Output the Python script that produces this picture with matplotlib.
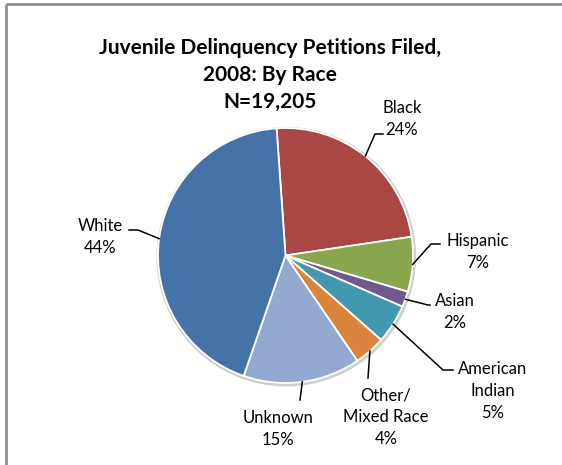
import matplotlib
matplotlib.use("Agg")
import matplotlib.pyplot as plt
import numpy as np

# Juvenile delinquency petitions filed in 2008, share by race (percent)
categories = ["Black", "Hispanic", "Asian", "American\nIndian", "Other/\nMixed Race", "Unknown", "White"]
values = [24, 7, 2, 5, 4, 15, 44]
colors = ["#AA4643", "#89A54E", "#71588F", "#4198AF", "#DB843D", "#93A9CF", "#4572A7"]

title_lines = ["Juvenile Delinquency Petitions Filed,", "2008: By Race", "N=19,205"]

W, H = 562, 465
fig = plt.figure(figsize=(W / 100, H / 100), dpi=100)
ax = fig.add_axes([0, 0, 1, 1])

FONT = "Lato"


def py(y):
    """Convert a top-down pixel row to the axes' y coordinate."""
    return H - y


cx, cy, r = 285.5, py(255.5), 127.5

# soft shadow around the pie
ax.add_patch(plt.Circle((cx + 0.8, cy - 1.2), r + 1.6, color="#cfcfcf", zorder=1))

wedges, _ = ax.pie(values, colors=colors, startangle=94, counterclock=False,
                   center=(cx, cy), radius=r, frame=True,
                   wedgeprops=dict(edgecolor="white", linewidth=1.3, zorder=2))
ax.set_xlim(0, W)
ax.set_ylim(0, H)
ax.set_aspect("equal")
ax.axis("off")

# chart frame (top and left edges)
ax.plot([6, 6], [py(H + 5), py(4)], color="#8f8f8f", lw=2, solid_capstyle="butt")
ax.plot([6, W + 5], [py(4), py(4)], color="#8f8f8f", lw=2, solid_capstyle="butt")

# label placement: (text centre, elbow point, end point), in pixel rows from the top
layout = {
    "Black": ((402, 119), (375, 134), (383, 134)),
    "Hispanic": ((478, 252), (431, 244), (440, 244)),
    "Asian": ((455, 312), (428, 305), (430, 305)),
    "American\nIndian": ((493, 391), (443, 370), (453, 370)),
    "Other/\nMixed Race": ((386, 417), (368, 378), (368, 378)),
    "Unknown": ((278, 429), (300, 400), (300, 400)),
    "White": ((100, 237), (138, 230), (129, 230)),
}

for w, cat, val in zip(wedges, categories, values):
    mid = np.deg2rad((w.theta1 + w.theta2) / 2)
    ax_pt = (cx + r * np.cos(mid), cy + r * np.sin(mid))
    (tx, ty), (ex, ey), (fx, fy) = layout[cat]
    ax.plot([ax_pt[0], ex, fx], [ax_pt[1], py(ey), py(fy)], color="black", lw=1.1, zorder=3)
    ax.text(tx, py(ty), f"{cat}\n{val}%", ha="center", va="center",
            fontsize=12, family=FONT, linespacing=1.45, color="black")

for i, line in enumerate(title_lines):
    ax.text(270, py(48 + 27 * i), line, ha="center", va="center", fontsize=15,
            fontweight="bold", family=FONT)

fig.savefig("out.png", dpi=100, facecolor="white")
